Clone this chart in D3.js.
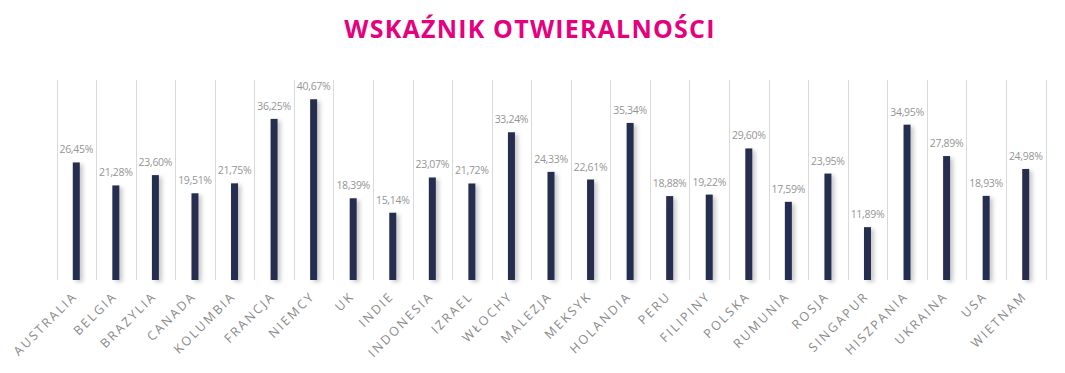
<!DOCTYPE html>
<html>
<head>
<meta charset="utf-8">
<script src="https://cdn.jsdelivr.net/npm/d3@7"></script>
<style>
  body { margin: 0; background: #fff; }
  svg { display: block; font-family: "Open Sans", sans-serif; }
</style>
</head>
<body>
<svg id="chart"></svg>
<script>
const title = "WSKAŹNIK OTWIERALNOŚCI";
const countries = ["AUSTRALIA", "BELGIA", "BRAZYLIA", "CANADA", "KOLUMBIA", "FRANCJA", "NIEMCY", "UK",
  "INDIE", "INDONESIA", "IZRAEL", "WŁOCHY", "MALEZJA", "MEKSYK", "HOLANDIA", "PERU", "FILIPINY",
  "POLSKA", "RUMUNIA", "ROSJA", "SINGAPUR", "HISZPANIA", "UKRAINA", "USA", "WIETNAM"];
const openRate = [26.45, 21.28, 23.60, 19.51, 21.75, 36.25, 40.67, 18.39, 15.14, 23.07, 21.72, 33.24,
  24.33, 22.61, 35.34, 18.88, 19.22, 29.60, 17.59, 23.95, 11.89, 34.95, 27.89, 18.93, 24.98];

const width = 1065;
const height = 373;
const plotLeft = 56.5, plotRight = 1045.5, plotTop = 80, plotBottom = 280;

const svg = d3.select("#chart")
    .attr("width", width)
    .attr("height", height);

// soft shadow to the right of bars
const defs = svg.append("defs");
const f = defs.append("filter").attr("id", "shadow")
    .attr("x", "-100%").attr("y", "-10%").attr("width", "400%").attr("height", "130%");
f.append("feDropShadow")
    .attr("dx", 3).attr("dy", 2).attr("stdDeviation", 2.2)
    .attr("flood-color", "#000").attr("flood-opacity", 0.22);

const fl = defs.append("filter").attr("id", "lineShadow")
    .attr("x", "-5%").attr("y", "-200%").attr("width", "110%").attr("height", "600%");
fl.append("feDropShadow")
    .attr("dx", 0).attr("dy", 2).attr("stdDeviation", 1.5)
    .attr("flood-color", "#000").attr("flood-opacity", 0.15);

const x = d3.scaleBand()
    .domain(countries)
    .range([plotLeft, plotRight]);

const y = d3.scaleLinear()
    .domain([0, 45])
    .range([plotBottom, plotTop]);

svg.append("text")
    .attr("x", 530)
    .attr("y", 38)
    .attr("text-anchor", "middle")
    .attr("fill", "#e6007e")
    .attr("font-size", 25)
    .attr("font-weight", 700)
    .attr("letter-spacing", 1.2)
    .text(title);

// vertical gridlines between categories
const edges = countries.map(c => x(c)).concat([plotRight]);
svg.append("g")
    .selectAll("line")
    .data(edges)
    .enter()
    .append("line")
    .attr("x1", d => Math.round(d) + 0.5)
    .attr("x2", d => Math.round(d) + 0.5)
    .attr("y1", plotTop)
    .attr("y2", plotBottom)
    .attr("stroke", "#d9d9d9")
    .attr("stroke-width", 1);

svg.append("line")
    .attr("x1", plotLeft)
    .attr("x2", plotRight)
    .attr("y1", plotBottom + 0.5)
    .attr("y2", plotBottom + 0.5)
    .attr("stroke", "#d9d9d9")
    .attr("filter", "url(#lineShadow)");

const barWidth = 7;
const bars = svg.append("g")
    .selectAll("g")
    .data(countries.map((c, i) => ({ c, v: openRate[i] })))
    .enter()
    .append("g");

bars.append("rect")
    .attr("x", d => x(d.c) + x.bandwidth() / 2 - barWidth / 2)
    .attr("y", d => y(d.v))
    .attr("width", barWidth)
    .attr("height", d => plotBottom - y(d.v))
    .attr("fill", "#272e50")
    .attr("filter", "url(#shadow)");

bars.append("text")
    .attr("x", d => x(d.c) + x.bandwidth() / 2)
    .attr("y", d => y(d.v) - 9)
    .attr("text-anchor", "middle")
    .attr("fill", "#959595")
    .attr("font-size", 10.5)
    .attr("letter-spacing", -0.3)
    .text(d => d.v.toFixed(2).replace(".", ",") + "%");

svg.append("g")
    .selectAll("text")
    .data(countries)
    .enter()
    .append("text")
    .attr("transform", d => `translate(${x(d) + x.bandwidth() / 2 + 2}, 297) rotate(-45)`)
    .attr("text-anchor", "end")
    .attr("fill", "#8a8a8a")
    .attr("font-size", 12.5)
    .attr("letter-spacing", 2.2)
    .text(d => d);
</script>
</body>
</html>
